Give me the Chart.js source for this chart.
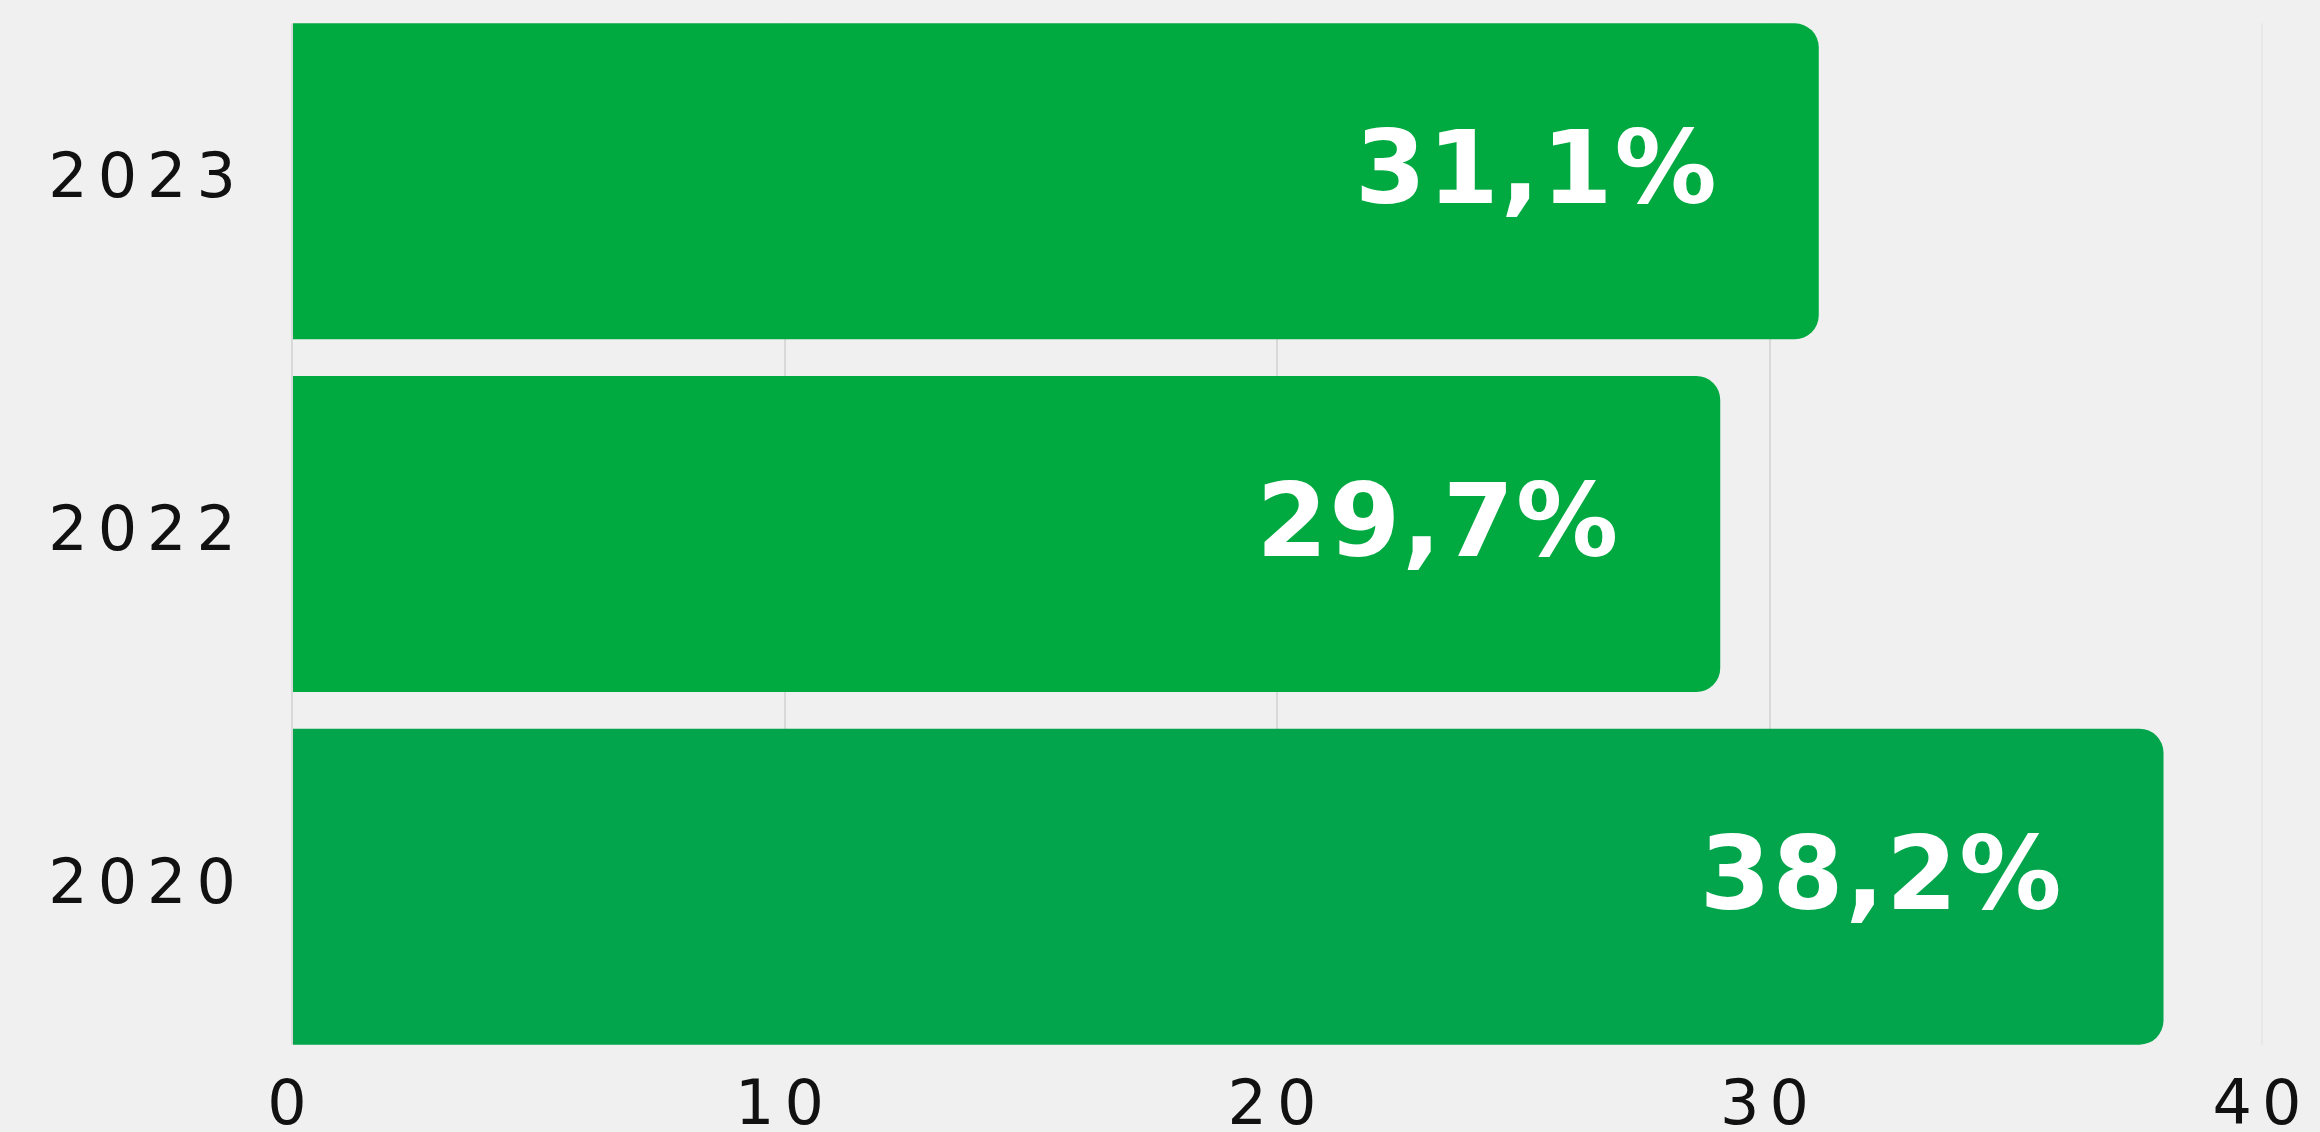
<!DOCTYPE html>
<html>
<head>
  <meta charset="UTF-8">
  <meta name="viewport" content="width=device-width, initial-scale=1.0">
  <script src="https://cdn.jsdelivr.net/npm/chart.js"></script>
  <title>Доля</title>
  <style>
    html, body { margin: 0; padding: 0; background: #f0f0f0; overflow: hidden; }
    #wrapper { width: 2320px; height: 1132px; }
  </style>
</head>
<body>
<div id="wrapper">
  <canvas id="chart" width="2320" height="1132"></canvas>
</div>

<script>
  // data
  const years = ['2023', '2022', '2020'];
  const shares = [31.0, 29.0, 38.0];
  const shareLabels = ['31,1%', '29,7%', '38,2%'];
  const barColors = ['#00aa40', '#00aa40', '#03a54c'];
  const xTicks = [0, 10, 20, 30, 40];

  const tickFont = { family: '"DejaVu Sans", sans-serif', size: 62 };

  // wider spacing for the axis text
  const tickSpacing = {
    id: 'tickSpacing',
    beforeDraw(chart) {
      chart.ctx.letterSpacing = '10px';
    }
  };

  // grid lines only run from the first bar's top to the last bar's bottom
  const trimGrid = {
    id: 'trimGrid',
    beforeDatasetsDraw(chart) {
      const area = chart.chartArea;
      const bars = chart.getDatasetMeta(0).data;
      const first = bars[0], last = bars[bars.length - 1];
      const topGap = (first.y - first.height / 2) - area.top;
      const bottomGap = area.bottom - (last.y + last.height / 2);
      const ctx = chart.ctx;
      ctx.save();
      ctx.fillStyle = '#f0f0f0';
      ctx.fillRect(area.left - 2, area.top - 1, area.width + 4, topGap + 1);
      ctx.fillRect(area.left - 2, area.bottom - bottomGap, area.width + 4, bottomGap + 1);
      ctx.restore();
    }
  };

  // white value labels inside the bars
  const valueLabels = {
    id: 'valueLabels',
    afterDatasetsDraw(chart) {
      const ctx = chart.ctx;
      const meta = chart.getDatasetMeta(0);
      ctx.save();
      ctx.letterSpacing = '2px';
      ctx.font = 'bold 102px "DejaVu Sans", sans-serif';
      ctx.fillStyle = '#ffffff';
      ctx.textAlign = 'right';
      ctx.textBaseline = 'alphabetic';
      meta.data.forEach((bar, i) => {
        ctx.fillText(shareLabels[i], bar.x - 100, bar.y + 22);
      });
      ctx.restore();
    }
  };

  const ctx = document.getElementById('chart').getContext('2d');
  const chart = new Chart(ctx, {
    type: 'bar',
    data: {
      labels: years,
      datasets: [{
        data: shares,
        backgroundColor: barColors,
        borderRadius: 24,
        borderSkipped: 'start',
        categoryPercentage: 1,
        barPercentage: 0.896
      }]
    },
    options: {
      indexAxis: 'y',
      responsive: false,
      animation: false,
      devicePixelRatio: 1,
      layout: { padding: { top: 5, right: 58, left: 0, bottom: 0 } },
      plugins: {
        legend: { display: false },
        tooltip: { enabled: false }
      },
      scales: {
        x: {
          min: 0,
          max: 40,
          afterBuildTicks: s => { s.ticks = xTicks.map(v => ({ value: v })); },
          grid: {
            color: c => (c.tick && c.tick.value === 40) ? '#e7e7e7' : '#d9d9d9',
            lineWidth: 2,
            drawTicks: false
          },
          border: { display: false },
          ticks: { color: '#111111', font: tickFont, padding: 8 },
          afterFit: s => {
            s.height = 69;
            s.paddingLeft = 0;
            s.paddingRight = 0;
          }
        },
        y: {
          grid: { display: false },
          border: { display: false },
          ticks: { color: '#111111', font: tickFont, padding: 38 },
          afterFit: s => {
            s.width = 292;
            s.paddingTop = 0;
            s.paddingBottom = 0;
          }
        }
      }
    },
    plugins: [tickSpacing, trimGrid, valueLabels]
  });
</script>
</body>
</html>
